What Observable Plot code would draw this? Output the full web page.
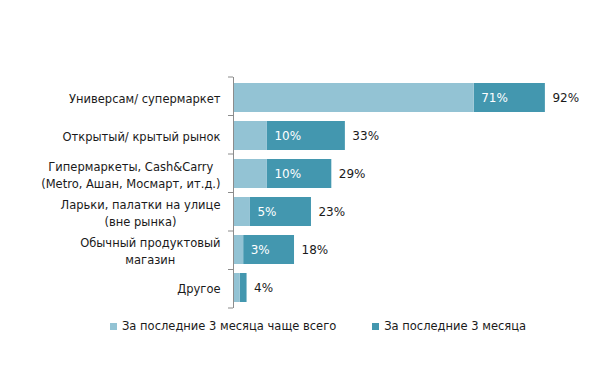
<!DOCTYPE html>
<html><head><meta charset="utf-8">
<script src="https://cdn.jsdelivr.net/npm/d3@7"></script>
<script src="https://cdn.jsdelivr.net/npm/@observablehq/plot@0.6"></script>
<style>
body{margin:0;background:#fff;font-family:"DejaVu Sans",sans-serif;}
#legend{display:flex;align-items:center;padding-left:110px;height:16px;font-size:11.5px;color:#1a1a1a;}
.item{display:flex;align-items:center;margin-right:36px;white-space:nowrap;}
.sw{width:7px;height:7px;margin-right:5px;}
</style></head><body><div id="chart"></div><div id="legend"></div>
<script>
const categories = [
  "Универсам/ супермаркет",
  "Открытый/ крытый рынок",
  "Гипермаркеты, Cash&Carry\n(Metro, Ашан, Мосмарт, ит.д.)",
  "Ларьки, палатки на улице\n(вне рынка)",
  "Обычный продуктовый\nмагазин",
  "Другое"
];
const oftenValues = [71, 10, 10, 5, 3, 2];
const totalValues = [92, 33, 29, 23, 18, 4];
const seriesNames = ["За последние 3 месяца чаще всего", "За последние 3 месяца"];
const colors = ["#93c3d4", "#4397af"];

const data = categories.map((c, i) => ({category: c, often: oftenValues[i], total: totalValues[i]}));
const FS = 11.5;
const ctx = document.createElement("canvas").getContext("2d");
ctx.font = FS + "px 'DejaVu Sans'";
const blockWidth = c => d3.max(c.split("\n"), l => ctx.measureText(l).width);

const plot = Plot.plot({
  width: 600, height: 318,
  marginLeft: 233, marginRight: 28, marginTop: 77, marginBottom: 10,
  style: {fontFamily: "DejaVu Sans", fontSize: FS + "px", background: "#fff"},
  x: {axis: null, domain: [0, 100]},
  y: {axis: null, domain: categories, paddingInner: 0.25, paddingOuter: 0.125},
  marks: [
    Plot.barX(data, {y: "category", x1: "often", x2: "total", fill: colors[1]}),
    Plot.barX(data, {y: "category", x: "often", fill: colors[0]}),
    Plot.ruleX([0], {stroke: "#8c8c8c"}),
    Plot.text(data.filter(d => d.often >= 3), {y: "category", x: "often", text: d => d.often + "%", textAnchor: "start", dx: 7, fill: "white", fontSize: FS + 0.5}),
    Plot.text(data, {y: "category", x: "total", text: d => d.total + "%", textAnchor: "start", dx: 7, fill: "#1a1a1a", fontSize: FS + 0.5}),
    ...categories.map(c => Plot.text([c], {y: d => d, text: d => d, frameAnchor: "left", textAnchor: "middle", dx: -(13 + blockWidth(c) / 2), lineHeight: 1.44, fill: "#1a1a1a", fontSize: FS}))
  ]
});
document.getElementById("chart").appendChild(plot);

// category boundary ticks on the axis
const ys = plot.scale("y"), xs = plot.scale("x");
const band = d3.scaleBand(ys.domain, ys.range).paddingInner(ys.paddingInner).paddingOuter(ys.paddingOuter).align(ys.align);
const half = band.step() * ys.paddingInner / 2;
const bounds = ys.domain.map(c => band(c) - half);
bounds.push(band(ys.domain[ys.domain.length - 1]) + band.bandwidth() + half);
const x0 = xs.range[0];
d3.select(plot).append("g").selectAll("line").data(bounds).join("line")
  .attr("x1", x0 - 5).attr("x2", x0).attr("y1", d => d).attr("y2", d => d)
  .attr("stroke", "#8c8c8c");

const legend = d3.select("#legend");
seriesNames.forEach((n, i) => {
  const it = legend.append("div").attr("class", "item");
  it.append("div").attr("class", "sw").style("background", colors[i]);
  it.append("span").text(n);
});
</script></body></html>
